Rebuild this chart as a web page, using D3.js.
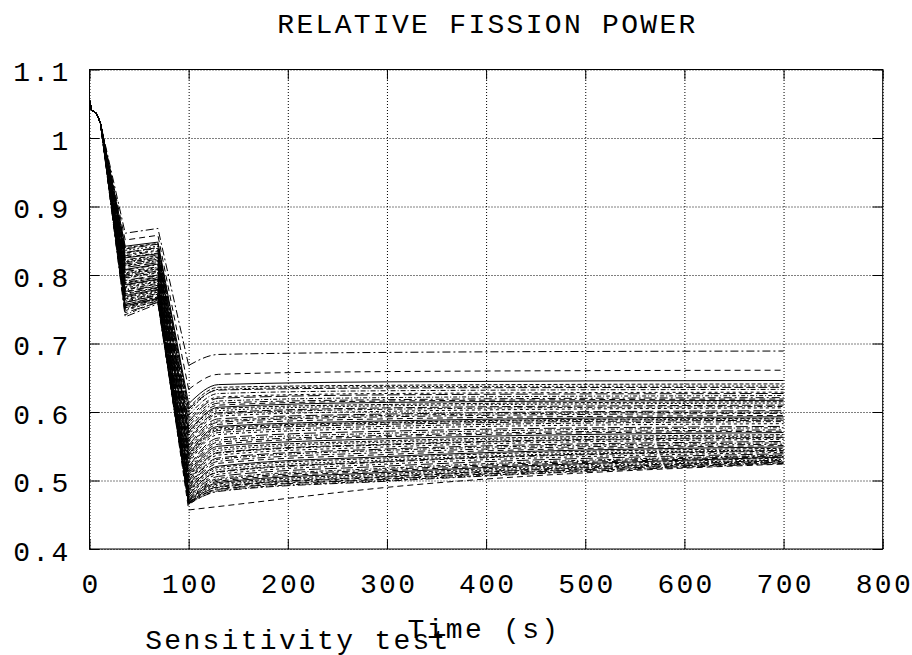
<!DOCTYPE html>
<html>
<head>
<meta charset="utf-8">
<script src="https://cdn.jsdelivr.net/npm/d3@7"></script>
<style>
  body { margin: 0; background: #fff; }
  text { font-family: "Liberation Mono", "Courier New", monospace; fill: #000; }
</style>
</head>
<body>
<div id="chart"></div>
<script>
// axis ticks
const xTicks = [0, 100, 200, 300, 400, 500, 600, 700, 800];
const yTicks = [0.4, 0.5, 0.6, 0.7, 0.8, 0.9, 1, 1.1];

// common start of every run (s, relative power)
const startTimes = [0, 2, 7, 11];
const startPower = [1.055, 1.041, 1.036, 1.022];

const runTimes = [36, 69, 100, 130, 300, 700];

// one value per run at each of runTimes
const shelfStart = [0.861,0.851,0.842,0.840,0.836,0.838,0.832,0.830,0.833,0.826,
  0.828,0.822,0.825,0.819,0.821,0.816,0.818,0.813,0.811,0.814,
  0.807,0.805,0.808,0.802,0.803,0.798,0.800,0.795,0.792,0.796,
  0.789,0.791,0.786,0.788,0.783,0.785,0.779,0.781,0.776,0.778,
  0.773,0.775,0.770,0.772,0.767,0.768,0.764,0.765,0.760,0.762,
  0.757,0.760,0.755,0.757,0.752,0.754,0.750,0.748,0.745,0.742,
  0.739,0.752];
const shelfEnd = [0.868,0.858,0.848,0.846,0.842,0.845,0.839,0.836,0.840,0.832,
  0.835,0.829,0.831,0.826,0.828,0.823,0.825,0.820,0.818,0.821,
  0.815,0.812,0.816,0.809,0.811,0.806,0.808,0.803,0.800,0.804,
  0.797,0.799,0.794,0.796,0.791,0.793,0.788,0.790,0.785,0.787,
  0.782,0.784,0.779,0.781,0.776,0.778,0.773,0.775,0.770,0.772,
  0.768,0.771,0.766,0.768,0.764,0.766,0.762,0.763,0.760,0.761,
  0.758,0.765];
const trough = [0.668,0.633,0.612,0.606,0.600,0.604,0.595,0.590,0.586,0.583,
  0.579,0.575,0.571,0.569,0.566,0.561,0.558,0.556,0.551,0.548,
  0.546,0.542,0.538,0.536,0.533,0.531,0.528,0.525,0.520,0.517,
  0.514,0.511,0.508,0.505,0.503,0.500,0.498,0.496,0.493,0.491,
  0.489,0.487,0.485,0.483,0.481,0.479,0.478,0.476,0.475,0.473,
  0.472,0.471,0.470,0.469,0.468,0.467,0.468,0.466,0.467,0.465,
  0.466,0.457];
const recovered = [0.684,0.655,0.640,0.636,0.633,0.632,0.627,0.622,0.620,0.616,
  0.613,0.610,0.607,0.605,0.602,0.599,0.597,0.594,0.590,0.587,
  0.585,0.582,0.579,0.577,0.575,0.573,0.570,0.567,0.562,0.559,
  0.556,0.553,0.550,0.547,0.544,0.541,0.540,0.537,0.533,0.531,
  0.528,0.525,0.521,0.519,0.516,0.513,0.512,0.509,0.506,0.503,
  0.501,0.499,0.497,0.495,0.493,0.491,0.490,0.488,0.487,0.485,
  0.484,0.462];
const midway = [0.687,0.659,0.644,0.639,0.637,0.635,0.631,0.627,0.625,0.621,
  0.618,0.616,0.614,0.611,0.609,0.606,0.604,0.601,0.597,0.595,
  0.593,0.590,0.587,0.585,0.584,0.582,0.579,0.576,0.572,0.569,
  0.566,0.564,0.561,0.558,0.556,0.553,0.552,0.549,0.546,0.544,
  0.541,0.538,0.535,0.533,0.530,0.528,0.527,0.524,0.521,0.518,
  0.516,0.514,0.512,0.510,0.508,0.506,0.505,0.503,0.502,0.500,
  0.499,0.490];
const finalPower = [0.689,0.661,0.646,0.641,0.638,0.636,0.633,0.629,0.627,0.624,
  0.621,0.619,0.617,0.615,0.613,0.610,0.608,0.606,0.602,0.600,
  0.598,0.595,0.593,0.591,0.590,0.588,0.586,0.583,0.579,0.577,
  0.574,0.572,0.570,0.567,0.565,0.563,0.562,0.560,0.557,0.555,
  0.553,0.551,0.549,0.547,0.545,0.544,0.543,0.541,0.539,0.537,
  0.536,0.535,0.534,0.533,0.531,0.530,0.529,0.528,0.527,0.526,
  0.525,0.524];

const width = 912, height = 655;
const margin = {top: 69.5, right: 29.3, bottom: 106, left: 89.5};
const plotW = width - margin.left - margin.right;
const plotH = height - margin.top - margin.bottom;

// gnuplot-like dash types
const dashTypes = ["8,3,2,3", "6,4", "", "4,2", "2,2", "9,3", "5,2,1,2", "3,3", "12,4", "1,2,4,2"];

const svg = d3.select('#chart').append('svg')
  .attr('width', width)
  .attr('height', height)
  .style('background', 'white');

const x = d3.scaleLinear().domain([0, 800]).range([0, plotW]);
const y = d3.scaleLinear().domain([0.4, 1.1]).range([plotH, 0]);

const g = svg.append('g').attr('transform', `translate(${margin.left},${margin.top})`);

// dotted grid
g.append('g').attr('class', 'grid')
  .attr('transform', `translate(0,${plotH})`)
  .call(d3.axisBottom(x).tickValues(xTicks).tickSize(-plotH).tickFormat(''));
g.append('g').attr('class', 'grid')
  .call(d3.axisLeft(y).tickValues(yTicks).tickSize(-plotW).tickFormat(''));
g.selectAll('.grid .domain').remove();
g.selectAll('.grid line')
  .attr('stroke', '#000')
  .attr('stroke-width', 1)
  .attr('stroke-dasharray', '1,2');

// curves: transient part drawn straight, slow recovery drawn smooth
const runs = finalPower.map((_, i) => {
  const tail = [shelfStart[i], shelfEnd[i], trough[i], recovered[i], midway[i], finalPower[i]];
  const pts = startTimes.map((t, k) => [t, startPower[k]])
    .concat(runTimes.map((t, k) => [t, tail[k]]));
  const cut = startTimes.length + 2; // index of the trough
  return {early: pts.slice(0, cut + 1), late: pts.slice(cut)};
});

const lineEarly = d3.line().x(d => x(d[0])).y(d => y(d[1]));
const lineLate = d3.line().x(d => x(d[0])).y(d => y(d[1])).curve(d3.curveMonotoneX);

const runG = g.append('g').selectAll('g')
  .data(runs)
  .join('g')
  .attr('fill', 'none')
  .attr('stroke', '#000')
  .attr('stroke-width', 1)
  .attr('stroke-dasharray', (d, i) => dashTypes[i % dashTypes.length]);
runG.append('path').attr('d', d => lineEarly(d.early));
runG.append('path').attr('d', d => lineLate(d.late));

// border and inward ticks on all four sides
const axisStyle = sel => {
  sel.select('.domain').remove();
  sel.selectAll('line').attr('stroke', '#000');
  sel.selectAll('text')
    .style('font-family', '"Liberation Mono", monospace')
    .style('font-size', '28px')
    .style('letter-spacing', '2.3px')
    .attr('fill', '#000');
};

g.append('g')
  .attr('transform', `translate(0,${plotH})`)
  .call(d3.axisBottom(x).tickValues(xTicks).tickSize(-10).tickPadding(24).tickFormat(d => d))
  .call(axisStyle)
  .selectAll('text').attr('dx', '1.15px');
g.append('g')
  .call(d3.axisTop(x).tickValues(xTicks).tickSize(-10).tickFormat(''))
  .call(axisStyle);
g.append('g')
  .call(d3.axisLeft(y).tickValues(yTicks).tickSize(-10).tickPadding(19).tickFormat(d => d))
  .call(axisStyle)
  .selectAll('text').attr('dy', '0.41em');
g.append('g')
  .attr('transform', `translate(${plotW},0)`)
  .call(d3.axisRight(y).tickValues(yTicks).tickSize(-10).tickFormat(''))
  .call(axisStyle);

g.append('rect')
  .attr('width', plotW)
  .attr('height', plotH)
  .attr('fill', 'none')
  .attr('stroke', '#000')
  .attr('stroke-width', 1);

// titles
const label = (txt, cx, cy) => svg.append('text')
  .text(txt)
  .attr('x', cx)
  .attr('y', cy)
  .attr('text-anchor', 'middle')
  .style('font-size', '28px')
  .style('letter-spacing', '2.3px');

label('RELATIVE FISSION POWER', 487.5, 33);
label('Time (s)', 484, 638);
label('Sensitivity test', 298, 649);
</script>
</body>
</html>
